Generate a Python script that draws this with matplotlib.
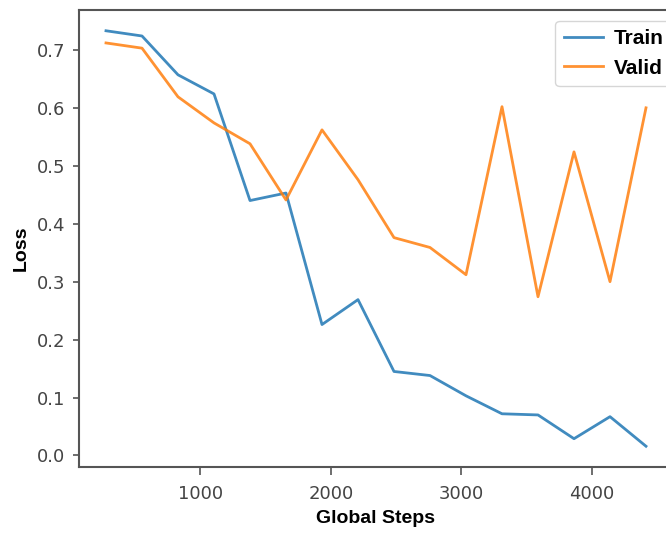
import matplotlib
matplotlib.use("Agg")
import matplotlib.pyplot as plt

# evaluation steps and losses
steps = [276, 552, 828, 1104, 1380, 1656, 1932, 2208, 2484, 2760,
         3036, 3312, 3588, 3864, 4140, 4416]
train_loss = [0.733, 0.724, 0.657, 0.624, 0.440, 0.453, 0.226, 0.269,
              0.145, 0.138, 0.103, 0.072, 0.070, 0.029, 0.067, 0.016]
valid_loss = [0.712, 0.703, 0.619, 0.574, 0.538, 0.441, 0.562, 0.476,
              0.376, 0.359, 0.312, 0.602, 0.274, 0.524, 0.300, 0.600]

fig = plt.figure(figsize=(6.66, 5.33), dpi=100)
# the original screenshot is cut on the right, so the axes run past the edge
ax = fig.add_axes([79/666, 66/533, 594/666, 457/533])

ax.plot(steps, train_loss, color="#1f77b4", lw=2, alpha=0.85, label="Train")
ax.plot(steps, valid_loss, color="#ff7f0e", lw=2, alpha=0.85, label="Valid")

ax.set_xticks([1000, 2000, 3000, 4000])
ax.set_yticks([0.0, 0.1, 0.2, 0.3, 0.4, 0.5, 0.6, 0.7])

ax.tick_params(axis="x", length=6, width=1.2, pad=7, color="#555555",
               labelsize=13, labelcolor="#444444")
ax.tick_params(axis="y", length=4, width=1.2, pad=6, color="#555555",
               labelsize=13, labelcolor="#444444")

for s in ax.spines.values():
    s.set_color("#555555")
    s.set_linewidth(1.5)

lab_font = dict(family="Liberation Sans", weight="bold", size=14)
ax.set_xlabel("Global Steps", labelpad=5, **lab_font)
ax.set_ylabel("Loss", **lab_font)
ax.yaxis.set_label_coords(-0.083, 0.479)

ax.legend(loc="upper right", bbox_to_anchor=(672/666, 1 - 21/533),
          bbox_transform=fig.transFigure, borderaxespad=0,
          prop=dict(family="Liberation Sans", weight="bold", size=15),
          handlelength=1.9, handletextpad=0.5)

fig.savefig("out.png", dpi=100)
